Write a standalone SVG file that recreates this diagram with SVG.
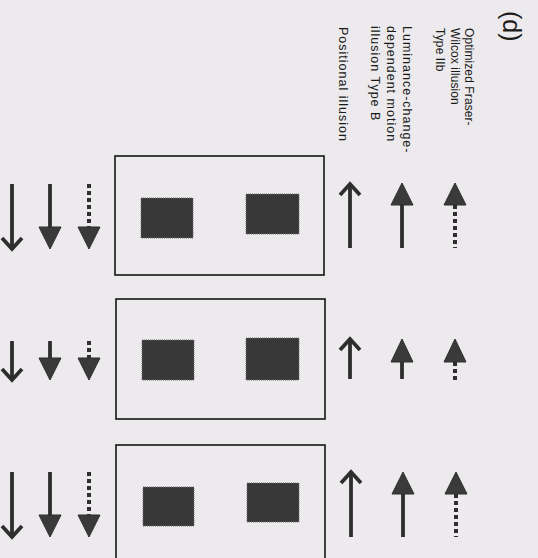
<svg xmlns="http://www.w3.org/2000/svg" width="538" height="558" viewBox="0 0 538 558">
<defs>
<style>
.lbl{font-family:"Liberation Sans",Arial,sans-serif;font-size:12.5px;letter-spacing:1px;fill:#1a1a1a}
.lbs{font-family:"Liberation Sans",Arial,sans-serif;font-size:12px;letter-spacing:0.1px;fill:#1a1a1a}
.ttl{font-family:"Liberation Sans",Arial,sans-serif;font-size:25px;fill:#1a1a1a}
.box{fill:none;stroke:#151515;stroke-width:1.6}
.sq{fill:#383838;stroke:#666;stroke-width:1;stroke-dasharray:1 1}
.shaft{stroke:#2e2e2e;stroke-width:3.8;fill:none}
.dash{stroke:#2e2e2e;stroke-width:4;fill:none;stroke-dasharray:4 3}
.head{fill:#3a3a3a;stroke:#2e2e2e;stroke-width:1}
.chev{fill:none;stroke:#2e2e2e;stroke-width:3.8;stroke-linejoin:miter}
</style>
</defs>
<rect x="0" y="0" width="538" height="558" fill="#eceaec"/>
<g id="labels">
<text class="ttl" transform="translate(503,11) rotate(90)">(d)</text>
<text class="lbs" transform="translate(465,28) rotate(90)">Optimized Fraser-</text>
<text class="lbs" transform="translate(451,28) rotate(90)">Wilcox illusion</text>
<text class="lbs" transform="translate(436,28) rotate(90)">Type IIb</text>
<text class="lbl" transform="translate(403,26) rotate(90)">Luminance-change-</text>
<text class="lbl" transform="translate(387,26) rotate(90)">dependent motion</text>
<text class="lbl" transform="translate(371,26) rotate(90)">illusion Type B</text>
<text class="lbl" transform="translate(339,27) rotate(90)">Positional illusion</text>
</g>
<g id="box1">
<rect class="box" x="115" y="156" width="209" height="119"/>
<rect class="sq" x="141" y="198" width="52" height="40"/>
<rect class="sq" x="246" y="194" width="53" height="40"/>
</g>
<g id="box2">
<rect class="box" x="116" y="299" width="209" height="120"/>
<rect class="sq" x="142" y="340" width="52" height="40"/>
<rect class="sq" x="246" y="338" width="53" height="42"/>
</g>
<g id="box3">
<rect class="box" x="116" y="445" width="209" height="125"/>
<rect class="sq" x="143" y="487" width="51" height="39"/>
<rect class="sq" x="247" y="483" width="52" height="39"/>
</g>
<g id="connectors">
<line class="shaft" x1="350" y1="186" x2="350" y2="248"/>
<polyline class="chev" points="340,195 350,184 360,195"/>
<line class="shaft" x1="402" y1="200" x2="402" y2="248"/>
<polygon class="head" points="402,183 413,205 391,205"/>
<line class="dash" x1="455" y1="205" x2="455" y2="248"/>
<polygon class="head" points="455,183 466,205 444,205"/>
<line class="shaft" x1="12" y1="184" x2="12" y2="247"/>
<polyline class="chev" points="2,238 12,249 22,238"/>
<line class="shaft" x1="50" y1="184" x2="50" y2="230"/>
<polygon class="head" points="50,249 61,227 39,227"/>
<line class="dash" x1="89" y1="184" x2="89" y2="227"/>
<polygon class="head" points="89,249 100,227 78,227"/>
<line class="shaft" x1="350" y1="341" x2="350" y2="379"/>
<polyline class="chev" points="340,350 350,339 360,350"/>
<line class="shaft" x1="402" y1="358" x2="402" y2="379"/>
<polygon class="head" points="402,339 413,362 391,362"/>
<line class="dash" x1="455" y1="362" x2="455" y2="380"/>
<polygon class="head" points="455,339 466,362 444,362"/>
<line class="shaft" x1="12" y1="341" x2="12" y2="378"/>
<polyline class="chev" points="2,369 12,380 22,369"/>
<line class="shaft" x1="50" y1="341" x2="50" y2="362"/>
<polygon class="head" points="50,380 61,358 39,358"/>
<line class="dash" x1="89" y1="341" x2="89" y2="358"/>
<polygon class="head" points="89,380 100,358 78,358"/>
<line class="shaft" x1="351" y1="474" x2="351" y2="537"/>
<polyline class="chev" points="341,483 351,472 361,483"/>
<line class="shaft" x1="403" y1="490" x2="403" y2="537"/>
<polygon class="head" points="403,472 414,494 392,494"/>
<line class="dash" x1="456" y1="494" x2="456" y2="537"/>
<polygon class="head" points="456,472 467,494 445,494"/>
<line class="shaft" x1="12" y1="472" x2="12" y2="535"/>
<polyline class="chev" points="2,526 12,537 22,526"/>
<line class="shaft" x1="50" y1="472" x2="50" y2="518"/>
<polygon class="head" points="50,537 61,515 39,515"/>
<line class="dash" x1="89" y1="472" x2="89" y2="515"/>
<polygon class="head" points="89,537 100,515 78,515"/>
</g>
</svg>
